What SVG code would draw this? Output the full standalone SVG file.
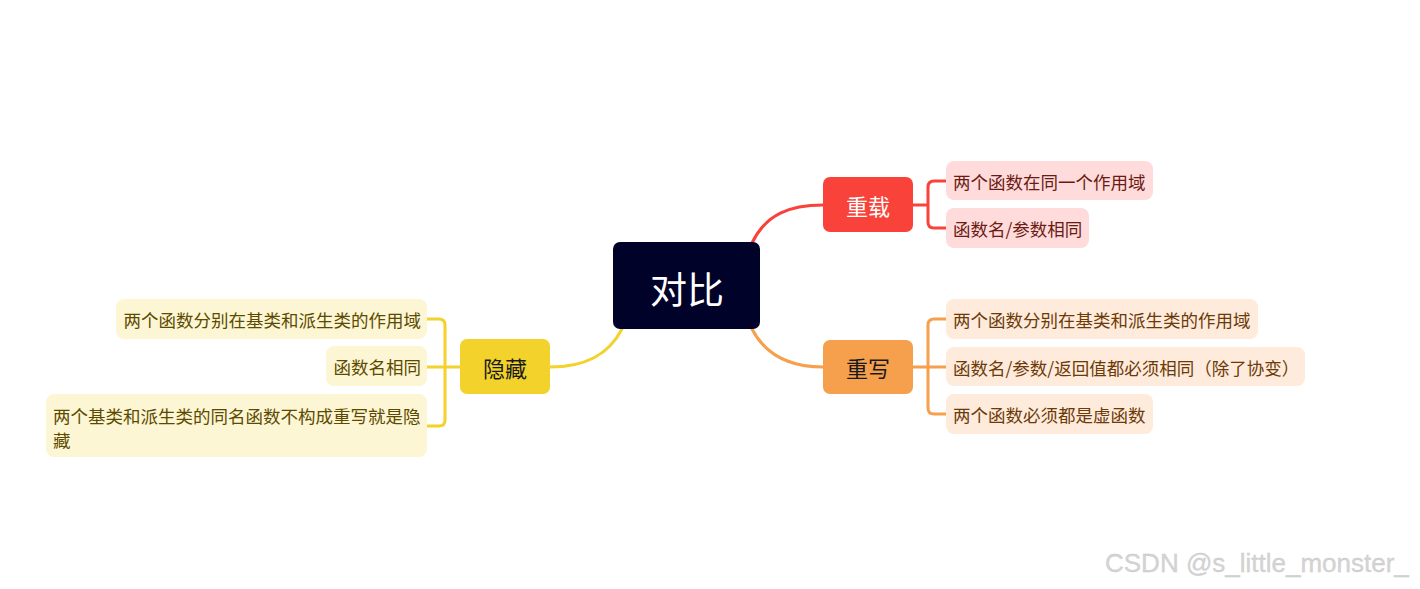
<svg xmlns="http://www.w3.org/2000/svg" width="1420" height="589" viewBox="0 0 1420 589">
<style>
.cjk{font-family:"Noto Sans CJK SC","Noto Sans",sans-serif;dominant-baseline:central}
.leaf{font-size:17.5px}
.con{fill:none;stroke-width:3;stroke-linecap:round}
.red{stroke:#F9423A}.ora{stroke:#F6A04D}.yel{stroke:#F2D22B}
</style>
<rect width="1420" height="589" fill="#fff"/>
<g id="connectors">
<path class="con red" d="M752,243 C766,214 790,205 823,205"/>
<path class="con ora" d="M752,329 C766,356 790,367 823,367"/>
<path class="con yel" d="M622,329 C608,356 584,367 550,367"/>
<path class="con red" d="M913,205 H928 M946,181 H934 Q928,181 928,187 V222 Q928,228 934,228 H946"/>
<path class="con ora" d="M913,367 H946 M946,319 H934 Q928,319 928,325 V408 Q928,414 934,414 H946"/>
<path class="con yel" d="M460,367 H427 M427,319 H439 Q445,319 445,325 V420 Q445,426 439,426 H427"/>
</g>
<g id="center">
<rect x="613" y="242" width="147" height="87" rx="7" fill="#00022A"/>
<text class="cjk" x="687" y="288" font-size="37" fill="#fff" text-anchor="middle">对比</text>
</g>
<g id="chongzai">
<rect x="823" y="177" width="90" height="55" rx="7" fill="#F9423A"/>
<text class="cjk" x="868" y="205" font-size="22" fill="#fff" text-anchor="middle">重载</text>
</g>
<g id="chongxie">
<rect x="823" y="340" width="90" height="54" rx="7" fill="#F6A04D"/>
<text class="cjk" x="868" y="367" font-size="22" fill="#1a1a1a" text-anchor="middle">重写</text>
</g>
<g id="yincang">
<rect x="460" y="339" width="90" height="55" rx="7" fill="#F2D22B"/>
<text class="cjk" x="505" y="367" font-size="22" fill="#1a1a1a" text-anchor="middle">隐藏</text>
</g>
<g id="cz1">
<rect x="946" y="161" width="207" height="39" rx="8" fill="#FFDCDB"/>
<text class="cjk leaf" x="953" y="181" fill="#6B1A14">两个函数在同一个作用域</text>
</g>
<g id="cz2">
<rect x="946" y="208" width="143" height="40" rx="8" fill="#FFDCDB"/>
<text class="cjk leaf" x="953" y="228" fill="#6B1A14">函数名/参数相同</text>
</g>
<g id="cx1">
<rect x="946" y="299" width="312" height="40" rx="8" fill="#FEEBDC"/>
<text class="cjk leaf" x="953" y="319" fill="#6B3A08">两个函数分别在基类和派生类的作用域</text>
</g>
<g id="cx2">
<rect x="946" y="347" width="359" height="39" rx="8" fill="#FEEBDC"/>
<text class="cjk leaf" x="953" y="367" fill="#6B3A08">函数名/参数/返回值都必须相同（除了协变）</text>
</g>
<g id="cx3">
<rect x="946" y="394" width="207" height="40" rx="8" fill="#FEEBDC"/>
<text class="cjk leaf" x="953" y="414" fill="#6B3A08">两个函数必须都是虚函数</text>
</g>
<g id="yc1">
<rect x="116" y="299" width="311" height="40" rx="8" fill="#FCF6D4"/>
<text class="cjk leaf" x="421" y="319" fill="#5C4A00" text-anchor="end">两个函数分别在基类和派生类的作用域</text>
</g>
<g id="yc2">
<rect x="326" y="346" width="101" height="40" rx="8" fill="#FCF6D4"/>
<text class="cjk leaf" x="421" y="366" fill="#5C4A00" text-anchor="end">函数名相同</text>
</g>
<g id="yc3">
<rect x="46" y="394" width="381" height="63" rx="8" fill="#FCF6D4"/>
<text class="cjk leaf" x="53" y="415" fill="#5C4A00">两个基类和派生类的同名函数不构成重写就是隐</text>
<text class="cjk leaf" x="53" y="439" fill="#5C4A00">藏</text>
</g>
<text x="1105" y="572" font-family="Liberation Sans, Arial, sans-serif" font-size="26" fill="#d4d4d4" stroke="#c8c8c8" stroke-width="0.3">CSDN @s_little_monster_</text>
</svg>
